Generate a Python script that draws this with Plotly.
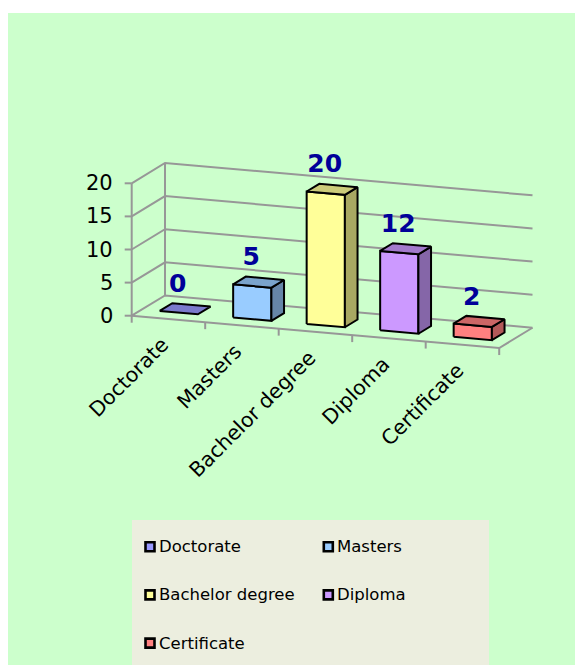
import plotly.graph_objects as go

# ---- data ----
categories = ["Doctorate", "Masters", "Bachelor degree", "Diploma", "Certificate"]
values = [0, 5, 20, 12, 2]
front_colors = ["#9999FF", "#99CCFF", "#FFFF99", "#CC99FF", "#FF8080"]
top_colors = ["#7A7ACC", "#7AA3CC", "#CCCC7A", "#A37ACC", "#CC6666"]
side_colors = ["#6B6BB3", "#6685A8", "#A8A862", "#8566A8", "#B35959"]
y_ticks = [0, 5, 10, 15, 20]

# ---- layout / projection constants (pixels) ----
W, H = 575, 665
OX, OY = 131.7, 315.7          # front-left corner at value 0
CAT_W = 73.5                   # width of one category slot
SLOPE = 0.088                  # downward slope of the floor edges
UNIT = 6.62                    # pixels per value unit
DX, DY = 33.3, -20.3           # full depth vector
BAR_C0, BAR_C1 = 0.24, 0.76    # bar extent within slot
BAR_D0, BAR_D1 = 0.31, 0.69    # bar extent in depth
YMAX = max(y_ticks)
N = len(categories)
FONT = "DejaVu Sans"
GRID = "#979797"


def proj(c, v, d):
    x = OX + c * CAT_W + d * DX
    y = OY + c * CAT_W * SLOPE - v * UNIT + d * DY
    return x, y


def poly(pts):
    xs = [p[0] for p in pts] + [pts[0][0]]
    ys = [p[1] for p in pts] + [pts[0][1]]
    return xs, ys


fig = go.Figure()

# ---- walls / gridlines ----
gx, gy = [], []
for t in y_ticks:
    for p in [proj(0, t, 0), proj(0, t, 1), proj(N, t, 1)]:
        gx.append(p[0]); gy.append(p[1])
    gx.append(None); gy.append(None)
for d in (0, 1):
    for p in [proj(0, 0, d), proj(0, YMAX, d)]:
        gx.append(p[0]); gy.append(p[1])
    gx.append(None); gy.append(None)
for p in [proj(0, 0, 0), proj(N, 0, 0), proj(N, 0, 1)]:
    gx.append(p[0]); gy.append(p[1])
gx.append(None); gy.append(None)
for t in y_ticks:
    x0, y0 = proj(0, t, 0)
    gx += [x0, x0 - 7, None]; gy += [y0, y0, None]
for k in range(N + 1):
    x0, y0 = proj(k, 0, 0)
    gx += [x0, x0, None]; gy += [y0, y0 + 7, None]
fig.add_trace(go.Scatter(x=gx, y=gy, mode="lines",
                         line=dict(color=GRID, width=2),
                         hoverinfo="skip", showlegend=False))

# ---- bars ----
for i, v in enumerate(values):
    c0, c1 = i + BAR_C0, i + BAR_C1
    front = [proj(c0, 0, BAR_D0), proj(c1, 0, BAR_D0), proj(c1, v, BAR_D0), proj(c0, v, BAR_D0)]
    side = [proj(c1, 0, BAR_D0), proj(c1, 0, BAR_D1), proj(c1, v, BAR_D1), proj(c1, v, BAR_D0)]
    top = [proj(c0, v, BAR_D0), proj(c1, v, BAR_D0), proj(c1, v, BAR_D1), proj(c0, v, BAR_D1)]
    faces = [(top, top_colors[i])]
    if v > 0:
        faces = [(front, front_colors[i]), (side, side_colors[i]), (top, top_colors[i])]
    for pts, col in faces:
        xs, ys = poly(pts)
        fig.add_trace(go.Scatter(x=xs, y=ys, mode="lines", fill="toself",
                                 fillcolor=col, line=dict(color="black", width=2),
                                 hoverinfo="skip", showlegend=False))

# ---- data labels ----
lx, ly, lt = [], [], []
for i, v in enumerate(values):
    x0, y0 = proj(i + 0.5, v, BAR_D0)
    lx.append(x0 - 1); ly.append(y0 - 27); lt.append(f"<b>{v}</b>")
fig.add_trace(go.Scatter(x=lx, y=ly, mode="text", text=lt,
                         textposition="middle center",
                         textfont=dict(family=FONT, size=25, color="#000099"),
                         hoverinfo="skip", showlegend=False))

annotations = []
# ---- y tick labels ----
for t in y_ticks:
    x0, y0 = proj(0, t, 0)
    annotations.append(dict(x=x0 - 17, y=y0, text=str(t), showarrow=False,
                            xanchor="right", yanchor="middle",
                            font=dict(family=FONT, size=21, color="black")))
# ---- category labels ----
for i, name in enumerate(categories):
    x0, y0 = proj(i + 0.5, 0, 0)
    annotations.append(dict(x=x0 + 8, y=y0 + 11, text=name, showarrow=False,
                            textangle=-45, xanchor="right", yanchor="top",
                            font=dict(family=FONT, size=20.5, color="black")))

# ---- legend (manual, 2 columns) ----
LEG_X0, LEG_X1, LEG_Y0, LEG_Y1 = 132, 489, 520, 665
LEG_COL_X = [150, 328.3]
LEG_ROW_Y0, LEG_ROW_DY = 546.7, 48.2
mx, my, mc = [], [], []
for i, name in enumerate(categories):
    cx = LEG_COL_X[i % 2]
    cy = LEG_ROW_Y0 + (i // 2) * LEG_ROW_DY
    mx.append(cx); my.append(cy); mc.append(front_colors[i])
    annotations.append(dict(x=cx + 7, y=cy, text=name, showarrow=False,
                            xanchor="left", yanchor="middle",
                            font=dict(family=FONT, size=16.5, color="black")))
fig.add_trace(go.Scatter(x=mx, y=my, mode="markers",
                         marker=dict(symbol="square", size=9, color=mc,
                                     line=dict(color="black", width=2.6)),
                         hoverinfo="skip", showlegend=False))

shapes = [
    dict(type="rect", xref="x", yref="y", x0=8, x1=W, y0=13, y1=H,
         fillcolor="#CCFFCC", line=dict(width=0), layer="below"),
    dict(type="rect", xref="x", yref="y", x0=LEG_X0, x1=LEG_X1, y0=LEG_Y0, y1=LEG_Y1,
         fillcolor="#ECEEDF", line=dict(width=0), layer="below"),
]

fig.update_layout(
    width=W, height=H,
    margin=dict(l=0, r=0, t=0, b=0),
    paper_bgcolor="white", plot_bgcolor="rgba(0,0,0,0)",
    xaxis=dict(range=[0, W], visible=False, fixedrange=True),
    yaxis=dict(range=[H, 0], visible=False, fixedrange=True),
    shapes=shapes, annotations=annotations,
    showlegend=False, hovermode=False,
)

fig.write_html("out.html")
